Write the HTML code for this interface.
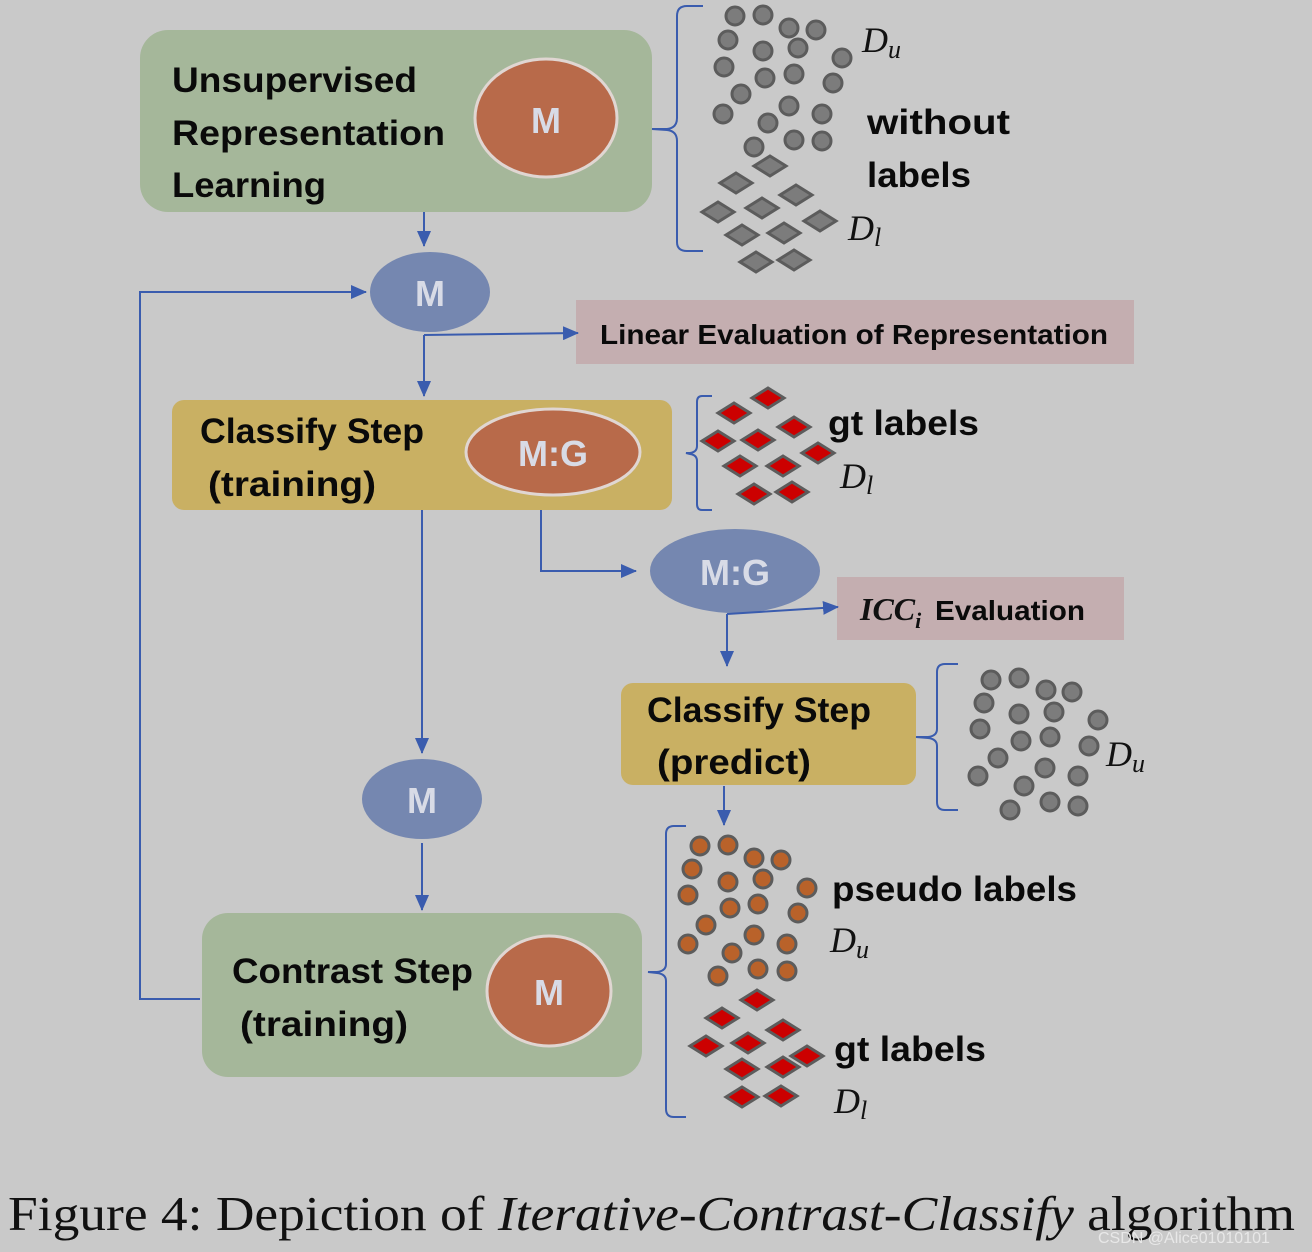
<!DOCTYPE html>
<html><head><meta charset="utf-8"><style>
html,body{margin:0;padding:0;background:#c9c9c9;}
svg{display:block}
.t{font-family:"Liberation Sans",sans-serif;font-weight:bold;fill:#0a0a0a;}
.w{font-family:"Liberation Sans",sans-serif;font-weight:bold;fill:#d8dbe6;}
.d{font-family:"Liberation Serif",serif;font-style:italic;fill:#111;}
</style></head><body>
<svg width="1312" height="1252" viewBox="0 0 1312 1252" xmlns="http://www.w3.org/2000/svg">
<defs>
<marker id="b" markerWidth="16" markerHeight="14" refX="15" refY="7" orient="auto" markerUnits="userSpaceOnUse"><path d="M0,0 L16,7 L0,14 z" fill="#3a5cae"/></marker>
</defs>
<rect width="1312" height="1252" fill="#c9c9c9"/>

<rect x="140" y="30" width="512" height="182" rx="28" fill="#a5b79a"/>
<ellipse cx="546" cy="118" rx="71" ry="59" fill="#b86a4a" stroke="#e0d6d2" stroke-width="3"/>
<text class="w" x="546" y="133" font-size="36" text-anchor="middle" font-weight="normal">M</text>
<text class="t" x="172" y="92" font-size="35" textLength="245" lengthAdjust="spacingAndGlyphs">Unsupervised</text>
<text class="t" x="172" y="145" font-size="35" textLength="273" lengthAdjust="spacingAndGlyphs">Representation</text>
<text class="t" x="172" y="197" font-size="35" textLength="154" lengthAdjust="spacingAndGlyphs">Learning</text>

<ellipse cx="430" cy="292" rx="60" ry="40" fill="#7587b0"/>
<text class="w" x="430" y="306" font-size="36" text-anchor="middle">M</text>

<rect x="576" y="300" width="558" height="64" fill="#c4aeb0"/>
<text class="t" x="600" y="344" font-size="28" textLength="508" lengthAdjust="spacingAndGlyphs">Linear Evaluation of Representation</text>

<rect x="172" y="400" width="500" height="110" rx="12" fill="#c9b063"/>
<text class="t" x="200" y="443" font-size="35" textLength="224" lengthAdjust="spacingAndGlyphs">Classify Step</text>
<text class="t" x="208" y="496" font-size="35" textLength="168" lengthAdjust="spacingAndGlyphs">(training)</text>
<ellipse cx="553" cy="452" rx="87" ry="43" fill="#b86a4a" stroke="#e0d6d2" stroke-width="3"/>
<text class="w" x="553" y="466" font-size="36" text-anchor="middle">M:G</text>

<ellipse cx="735" cy="571" rx="85" ry="42" fill="#7587b0"/>
<text class="w" x="735" y="585" font-size="36" text-anchor="middle">M:G</text>

<rect x="837" y="577" width="287" height="63" fill="#c4aeb0"/>
<text x="860" y="620" font-size="32" font-family="Liberation Serif,serif" font-style="italic" font-weight="bold" fill="#111">ICC<tspan font-size="22" dy="8">i</tspan></text>
<text class="t" x="935" y="620" font-size="28" textLength="150" lengthAdjust="spacingAndGlyphs">Evaluation</text>

<rect x="621" y="683" width="295" height="102" rx="12" fill="#c9b063"/>
<text class="t" x="647" y="722" font-size="35" textLength="224" lengthAdjust="spacingAndGlyphs">Classify Step</text>
<text class="t" x="657" y="774" font-size="35" textLength="154" lengthAdjust="spacingAndGlyphs">(predict)</text>

<ellipse cx="422" cy="799" rx="60" ry="40" fill="#7587b0"/>
<text class="w" x="422" y="813" font-size="36" text-anchor="middle">M</text>

<rect x="202" y="913" width="440" height="164" rx="26" fill="#a5b79a"/>
<text class="t" x="232" y="983" font-size="35" textLength="241" lengthAdjust="spacingAndGlyphs">Contrast Step</text>
<text class="t" x="240" y="1036" font-size="35" textLength="168" lengthAdjust="spacingAndGlyphs">(training)</text>
<ellipse cx="549" cy="991" rx="62" ry="55" fill="#b86a4a" stroke="#e0d6d2" stroke-width="3"/>
<text class="w" x="549" y="1005" font-size="36" text-anchor="middle" font-weight="normal">M</text>

<g stroke="#3a5cae" stroke-width="2" fill="none">
<path d="M424 212 V246" marker-end="url(#b)"/>
<path d="M200 999 H140 V292 H366" marker-end="url(#b)"/>
<path d="M424 335 V396" marker-end="url(#b)"/>
<path d="M424 335 L578 333" marker-end="url(#b)"/>
<path d="M422 510 V753" marker-end="url(#b)"/>
<path d="M541 510 V571 H636" marker-end="url(#b)"/>
<path d="M727 614 V666" marker-end="url(#b)"/>
<path d="M727 614 L838 607" marker-end="url(#b)"/>
<path d="M724 786 V825" marker-end="url(#b)"/>
<path d="M422 843 V910" marker-end="url(#b)"/>
<path d="M703 6 H687 Q677 6 677 16 V118 Q677 128 667 129 L652 129 L667 130 Q677 131 677 141 V242 Q677 251 687 251 H703"/>
<path d="M712 396 H702 Q697 396 697 402 V446 Q697 452 690 453 L686 453 L690 454 Q697 455 697 461 V504 Q697 510 702 510 H712"/>
<path d="M958 664 H945 Q937 664 937 672 V729 Q937 736 928 737 L916 737 L928 738 Q937 739 937 746 V802 Q937 810 945 810 H958"/>
<path d="M686 826 H674 Q666 826 666 834 V964 Q666 971 657 972 L648 972 L657 973 Q666 974 666 981 V1109 Q666 1117 674 1117 H686"/>
</g>

<g fill="#7c7c7c" stroke="#5c5c5c" stroke-width="3">
<circle cx="735" cy="16" r="9"/><circle cx="763" cy="15" r="9"/><circle cx="789" cy="28" r="9"/><circle cx="816" cy="30" r="9"/>
<circle cx="728" cy="40" r="9"/><circle cx="763" cy="51" r="9"/><circle cx="798" cy="48" r="9"/><circle cx="842" cy="58" r="9"/>
<circle cx="724" cy="67" r="9"/><circle cx="765" cy="78" r="9"/><circle cx="794" cy="74" r="9"/><circle cx="833" cy="83" r="9"/>
<circle cx="741" cy="94" r="9"/><circle cx="789" cy="106" r="9"/><circle cx="723" cy="114" r="9"/><circle cx="768" cy="123" r="9"/>
<circle cx="822" cy="114" r="9"/><circle cx="754" cy="147" r="9"/><circle cx="794" cy="140" r="9"/><circle cx="822" cy="141" r="9"/>
<circle cx="991" cy="680" r="9"/><circle cx="1019" cy="678" r="9"/><circle cx="1046" cy="690" r="9"/><circle cx="1072" cy="692" r="9"/>
<circle cx="984" cy="703" r="9"/><circle cx="1019" cy="714" r="9"/><circle cx="1054" cy="712" r="9"/><circle cx="1098" cy="720" r="9"/>
<circle cx="980" cy="729" r="9"/><circle cx="1021" cy="741" r="9"/><circle cx="1050" cy="737" r="9"/><circle cx="1089" cy="746" r="9"/>
<circle cx="998" cy="758" r="9"/><circle cx="1045" cy="768" r="9"/><circle cx="978" cy="776" r="9"/><circle cx="1024" cy="786" r="9"/>
<circle cx="1078" cy="776" r="9"/><circle cx="1010" cy="810" r="9"/><circle cx="1050" cy="802" r="9"/><circle cx="1078" cy="806" r="9"/>
</g>
<g fill="#b9622a" stroke="#5c5c5c" stroke-width="3">
<circle cx="700" cy="846" r="9"/><circle cx="728" cy="845" r="9"/><circle cx="754" cy="858" r="9"/><circle cx="781" cy="860" r="9"/>
<circle cx="692" cy="869" r="9"/><circle cx="728" cy="882" r="9"/><circle cx="763" cy="879" r="9"/><circle cx="807" cy="888" r="9"/>
<circle cx="688" cy="895" r="9"/><circle cx="730" cy="908" r="9"/><circle cx="758" cy="904" r="9"/><circle cx="798" cy="913" r="9"/>
<circle cx="706" cy="925" r="9"/><circle cx="754" cy="935" r="9"/><circle cx="688" cy="944" r="9"/><circle cx="732" cy="953" r="9"/>
<circle cx="787" cy="944" r="9"/><circle cx="718" cy="976" r="9"/><circle cx="758" cy="969" r="9"/><circle cx="787" cy="971" r="9"/>
</g>

<g fill="#7c7c7c" stroke="#5c5c5c" stroke-width="3">
<path d="M770 156 l16 10 l-16 10 l-16 -10z"/><path d="M736 173 l16 10 l-16 10 l-16 -10z"/><path d="M796 185 l16 10 l-16 10 l-16 -10z"/>
<path d="M718 202 l16 10 l-16 10 l-16 -10z"/><path d="M762 198 l16 10 l-16 10 l-16 -10z"/><path d="M820 211 l16 10 l-16 10 l-16 -10z"/>
<path d="M742 225 l16 10 l-16 10 l-16 -10z"/><path d="M784 223 l16 10 l-16 10 l-16 -10z"/><path d="M756 252 l16 10 l-16 10 l-16 -10z"/><path d="M794 250 l16 10 l-16 10 l-16 -10z"/>
</g>
<g fill="#cc0000" stroke="#5c5c5c" stroke-width="3">
<path d="M768 388 l16 10 l-16 10 l-16 -10z"/><path d="M734 403 l16 10 l-16 10 l-16 -10z"/><path d="M794 417 l16 10 l-16 10 l-16 -10z"/>
<path d="M718 431 l16 10 l-16 10 l-16 -10z"/><path d="M758 430 l16 10 l-16 10 l-16 -10z"/><path d="M818 443 l16 10 l-16 10 l-16 -10z"/>
<path d="M740 456 l16 10 l-16 10 l-16 -10z"/><path d="M783 456 l16 10 l-16 10 l-16 -10z"/><path d="M754 484 l16 10 l-16 10 l-16 -10z"/><path d="M792 482 l16 10 l-16 10 l-16 -10z"/>
<path d="M757 990 l16 10 l-16 10 l-16 -10z"/><path d="M722 1008 l16 10 l-16 10 l-16 -10z"/><path d="M783 1020 l16 10 l-16 10 l-16 -10z"/>
<path d="M706 1036 l16 10 l-16 10 l-16 -10z"/><path d="M748 1033 l16 10 l-16 10 l-16 -10z"/><path d="M807 1046 l16 10 l-16 10 l-16 -10z"/>
<path d="M742 1059 l16 10 l-16 10 l-16 -10z"/><path d="M783 1057 l16 10 l-16 10 l-16 -10z"/><path d="M742 1087 l16 10 l-16 10 l-16 -10z"/><path d="M781 1086 l16 10 l-16 10 l-16 -10z"/>
</g>

<text class="d" x="862" y="52" font-size="36">D<tspan font-size="26" dy="6">u</tspan></text>
<text class="t" x="867" y="134" font-size="35" textLength="143" lengthAdjust="spacingAndGlyphs">without</text>
<text class="t" x="867" y="187" font-size="35" textLength="104" lengthAdjust="spacingAndGlyphs">labels</text>
<text class="d" x="848" y="240" font-size="36">D<tspan font-size="26" dy="6">l</tspan></text>
<text class="t" x="828" y="435" font-size="35" textLength="151" lengthAdjust="spacingAndGlyphs">gt labels</text>
<text class="d" x="840" y="488" font-size="36">D<tspan font-size="26" dy="6">l</tspan></text>
<text class="d" x="1106" y="766" font-size="36">D<tspan font-size="26" dy="6">u</tspan></text>
<text class="t" x="832" y="901" font-size="35" textLength="245" lengthAdjust="spacingAndGlyphs">pseudo labels</text>
<text class="d" x="830" y="952" font-size="36">D<tspan font-size="26" dy="6">u</tspan></text>
<text class="t" x="834" y="1061" font-size="35" textLength="152" lengthAdjust="spacingAndGlyphs">gt labels</text>
<text class="d" x="834" y="1113" font-size="36">D<tspan font-size="26" dy="6">l</tspan></text>

<text x="8" y="1230" font-size="49" font-family="Liberation Serif,serif" fill="#111" textLength="1287" lengthAdjust="spacingAndGlyphs">Figure 4: Depiction of <tspan font-style="italic">Iterative-Contrast-Classify</tspan> algorithm</text>
<text x="1098" y="1243" font-size="16" font-family="Liberation Sans,sans-serif" fill="#e8e8e8">CSDN @Alice01010101</text>
</svg>
</body></html>
